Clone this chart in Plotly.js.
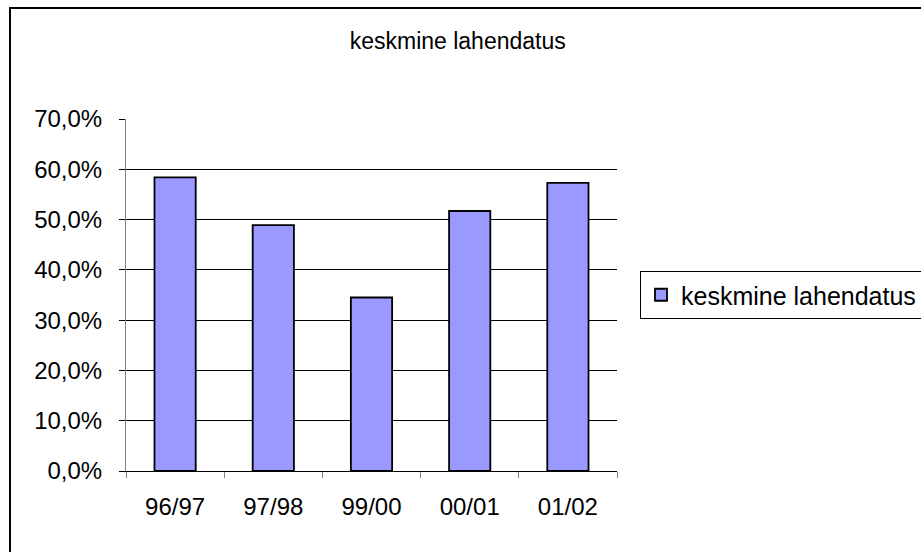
<!DOCTYPE html>
<html>
<head>
<meta charset="utf-8">
<script src="https://cdn.plot.ly/plotly-3.0.1.min.js"></script>
<style>html,body{margin:0;padding:0;background:#fff;overflow:hidden}</style>
</head>
<body>
<div id="chart" style="width:921px;height:552px"></div>
<script>
const categories = ["96/97", "97/98", "99/00", "00/01", "01/02"];
const values = [0.584, 0.489, 0.345, 0.517, 0.573];
const seriesName = "keskmine lahendatus";
const chartTitle = "keskmine lahendatus";
const yTicks = [0, 0.1, 0.2, 0.3, 0.4, 0.5, 0.6, 0.7];

const font = "Liberation Sans, Arial, sans-serif";
const L = 126, R = 617, T = 119, B = 471;
const W = 921, H = 552;
const pw = R - L, ph = B - T;
const px = v => (v - L) / pw;
const py = v => (B - v) / ph;

Plotly.newPlot("chart", [{
  type: "bar",
  x: categories,
  y: values,
  name: seriesName,
  marker: {color: "#9999FF", line: {color: "#000000", width: 1.8}},
  showlegend: true
}], {
  width: W, height: H,
  margin: {l: L, r: W - R, t: T, b: H - B, pad: 0, autoexpand: false},
  paper_bgcolor: "#ffffff",
  plot_bgcolor: "#ffffff",
  separators: ",.",
  font: {family: font, size: 23, color: "#000"},
  title: {text: chartTitle, x: 0.497, xanchor: "center", y: 1 - 41 / H, yanchor: "middle",
          font: {family: font, size: 23, color: "#000"}},
  bargap: 0.58,
  xaxis: {
    type: "category",
    showgrid: false,
    showline: true, linecolor: "#000", linewidth: 1,
    ticks: "outside", tickson: "boundaries", ticklen: 6, tickcolor: "#808080",
    ticklabelstandoff: 14,
    tickfont: {family: font, size: 24, color: "#000"},
    zeroline: false, fixedrange: true
  },
  yaxis: {
    range: [0, 0.7],
    tickvals: yTicks,
    tickformat: ".1%",
    showgrid: true, gridcolor: "#000", gridwidth: 1,
    showline: true, linecolor: "#808080", linewidth: 1,
    ticks: "outside", ticklen: 6, tickcolor: "#000",
    ticklabelstandoff: 12,
    tickfont: {family: font, size: 24, color: "#000"},
    zeroline: false, fixedrange: true
  },
  legend: {
    x: px(640), xanchor: "left", y: py(295), yanchor: "middle",
    bordercolor: "#000", borderwidth: 1, bgcolor: "#fff",
    font: {family: font, size: 25, color: "#000"},
    itemwidth: 30
  },
  shapes: [{
    type: "rect", xref: "paper", yref: "paper",
    x0: px(10), x1: px(940), y0: py(570), y1: py(8),
    line: {color: "#000", width: 2}, fillcolor: "rgba(0,0,0,0)", layer: "above"
  }]
}, {displayModeBar: false, staticPlot: true});
</script>
</body>
</html>
